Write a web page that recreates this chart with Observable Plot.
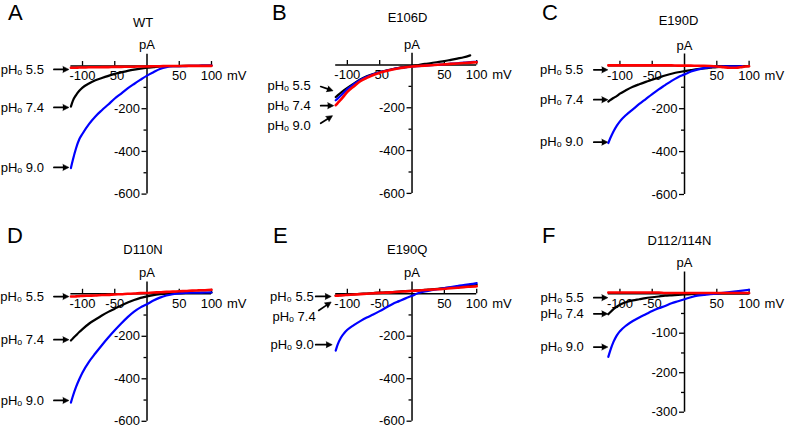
<!DOCTYPE html>
<html><head><meta charset="utf-8">
<script src="https://cdn.jsdelivr.net/npm/d3@7"></script>
<script src="https://cdn.jsdelivr.net/npm/@observablehq/plot@0.6"></script>
<style>
body{margin:0;background:#fff;}
#fig{position:relative;width:787px;height:428px;overflow:hidden;font-family:"Liberation Sans",Arial,sans-serif;background:#fff;}
.cell{position:absolute;}
.letter{position:absolute;font-size:22px;line-height:22px;color:#000;}
</style></head><body><div id="fig"></div>
<script>
// ---- data (mV, pA) ----
const voltage = [-118,-115,-110,-105,-100,-90,-80,-70,-60,-50,-40,-30,-20,-10,0,10,20,30,40,50,60,70,80,90,100];
// A: WT
const wt55 = [-8,-8,-8,-7,-7,-6,-6,-5,-5,-4,-4,-3,-3,-2,-2,-1,-1,0,0,0,1,1,1,1,1];
const wt74 = [-190,-163,-136,-116,-101,-82,-67,-56,-46,-37,-30,-23,-17,-12,-8,-5,-2,-1,0,0,1,1,1,2,2];
const wt90 = [-478,-440,-385,-343,-317,-272,-236,-207,-180,-152,-129,-105,-84,-64,-45,-29,-14,-5,-1,0,0,1,1,2,2];
// B: E106D
const e106d55 = [-188,-178,-162,-144,-126,-100,-76,-60,-47,-36,-28,-21,-15,-11,-7,-5,-3,-1,1,3,5,7,9,11,13];
const e106d74 = [-150,-142,-130,-118,-107,-87,-68,-53,-42,-33,-26,-19,-13,-9,-5,0,5,9,14,18,24,30,36,45,null];
const e106d90 = [-165,-157,-143,-128,-113,-90,-70,-55,-43,-34,-27,-20,-15,-11,-7,-5,-3,-1,1,3,6,8,11,13,15];
// C: E190D
const e190d55 = [2,2,2,2,2,2,2,2,2,2,2,2,2,1,1,1,0,0,-1,-3,-6,-9,-9,-5,-2];
const e190d74 = [-167,-160,-150,-141,-130,-113,-98,-86,-75,-65,-55,-45,-37,-30,-25,-20,-15,-12,-9,-6,-4,-3,-2,-2,-2];
const e190d90 = [-360,-338,-306,-280,-259,-228,-203,-178,-155,-132,-110,-90,-70,-53,-40,-27,-18,-11,-6,-4,-3,-2,-2,-1,null];
// D: D110N
const d110n55 = [-13,-13,-12,-11,-10,-9,-8,-6,-5,-3,-2,0,1,3,4,6,7,9,10,12,13,15,16,17,19];
const d110n74 = [-220,-210,-195,-180,-166,-141,-121,-102,-85,-70,-55,-41,-29,-19,-12,-6,-2,1,2,3,4,4,5,5,6];
const d110n90 = [-512,-482,-438,-402,-370,-320,-280,-242,-206,-172,-140,-110,-84,-64,-49,-32,-18,-8,-2,2,4,5,5,6,6];
// E: E190Q
const e190q55 = [-10,-9,-8,-7,-6,-4,-2,0,2,4,5,7,9,11,13,15,17,19,21,23,26,28,31,33,35];
const e190q74 = [-9,-8,-7,-6,-5,-3,-1,1,3,5,6,8,10,12,14,16,18,21,23,26,29,32,35,38,41];
const e190q90 = [-268,-240,-207,-186,-170,-148,-129,-112,-98,-82,-65,-48,-35,-22,-10,3,11,16,21,26,31,36,41,45,50];
// F: D112/114N
const d112n55 = [3,3,3,3,3,3,3,3,3,3,3,2,2,2,2,2,2,2,2,2,2,2,2,2,2];
const d112n74 = [-52,-47,-39,-33,-28,-21,-17,-14,-11,-9,-7,-5,-4,-3,-2,-1,0,0,0,0,1,1,1,1,1];
const d112n90 = [-160,-144,-122,-106,-95,-80,-69,-60,-52,-44,-37,-31,-24,-19,-14,-9,-5,-3,-1,0,2,4,6,8,10];

const panelLetters = ["A","B","C","D","E","F"];
const panelTitles = ["WT","E106D","E190D","D110N","E190Q","D112/114N"];
const seriesByPanel = [
  [wt55, wt74, wt90],
  [e106d55, e106d74, e106d90],
  [e190d55, e190d74, e190d90],
  [d110n55, d110n74, d110n90],
  [e190q55, e190q74, e190q90],
  [d112n55, d112n74, d112n90]
];
const xTicks = [-100, -50, 50, 100];
const xTickLabels = ["-100", "-50", "50", "100"];
const yMajorTicks = [[-200,-400,-600],[-200,-400,-600],[-200,-400,-600],[-200,-400,-600],[-200,-400,-600],[-100,-200,-300]];
const yMinorTicks = [[-100,-300,-500],[-100,-300,-500],[-100,-300,-500],[-100,-300,-500],[-100,-300,-500],[-50,-150,-250]];
const yMin = [-600,-600,-600,-600,-600,-300];
const yMax = 55;
const phLabels = [
  ["pHₒ 5.5","pHₒ 7.4","pHₒ 9.0"],
  ["pHₒ 5.5","pHₒ 7.4","pHₒ 9.0"],
  ["pHₒ 5.5","pHₒ 7.4","pHₒ 9.0"],
  ["pH₀ 5.5","pHₒ 7.4","pHₒ 9.0"],
  ["pH₀ 5.5","pHₒ 7.4","pHₒ 9.0"],
  ["pHₒ 5.5","pHₒ 7.4","pHₒ 9.0"]
];
// current (pA) each pH label points at
const labelCurrents = [[-16,-194,-475],[-96,-190,-282],[-19,-158,-356],[-13,-216,-502],[-13,-107,-240],[-10,-51,-135]];
const seriesColors = ["#ff0000", "#000000", "#0000ff"]; // pH 5.5, 7.4, 9.0

// ---- layout (page pixels) ----
const H = (lx, ax, ay, rot, len) => ({lx, ax, ay, rot, len});
const layout = [
  {left:0,   top:0,   w:262, h:210, xl:70.4,  xr:211,   yt:53.8,  yb:193.6, letter:[8,20],    title:[142.5,22.5], pA:44.5,
   arrows:[H(-27,-17,0,90,15),H(-27,-17,0,90,15),H(-27,-17,0,90,15)]},
  {left:262, top:0,   w:262, h:210, xl:335.2, xr:476.2, yt:52.7,  yb:192.9, letter:[272,20],  title:[407,17],    pA:44.5,
   arrows:[H(-25,-15,1,109,13),H(-25,-15,0,90,13),H(-25,-15,-2,57,14)]},
  {left:524, top:0,   w:263, h:210, xl:607.8, xr:748.6, yt:53.5,  yb:194,   letter:[542,20],  title:[678,20],    pA:45,
   arrows:[H(-25,-14.5,0,90,14),H(-25,-14.5,0,90,14),H(-25,-14.5,0,90,14)]},
  {left:0,   top:210, w:262, h:218, xl:70.4,  xr:211,   yt:281.6, yb:420.8, letter:[7,243],   title:[142.5,249], pA:272,
   arrows:[H(-27,-17,0,90,15),H(-27,-17,0,90,15),H(-27,-17,0,90,15)]},
  {left:262, top:210, w:262, h:218, xl:335.2, xr:476.2, yt:281.5, yb:420.7, letter:[273,243], title:[406.7,249], pA:272,
   arrows:[H(-22,-20,0,90,15.5),H(-20,-17,-6,56,15),H(-22,-20,0,90,16.5)]},
  {left:524, top:210, w:263, h:218, xl:607.8, xr:748.6, yt:271.5, yb:411.7, letter:[542,243], title:[679,240],   pA:262,
   arrows:[H(-24.5,-14.5,0,90,14),H(-24.5,-14.5,0,90,14),H(-24.5,-14.5,0,90,14)]}
];

const FONT = "Liberation Sans, Arial, sans-serif";
const HEAD = 6;
const fig = document.getElementById("fig");

layout.forEach((L, p) => {
  const x0 = voltage[0], x1 = voltage[voltage.length - 1];
  const xZeroPx = L.xl + (0 - x0) * (L.xr - L.xl) / (x1 - x0);
  const txt = {fontFamily: FONT, fontSize: 13, fill: "black"};
  const marks = [];
  // axes lines
  marks.push(Plot.ruleY([0], {x1: x0, x2: x1, stroke: "black", strokeWidth: 1.5}));
  marks.push(Plot.ruleX([0], {y1: yMin[p], y2: yMax, stroke: "black", strokeWidth: 1.5}));
  // x ticks (pointing up)
  marks.push(Plot.ruleX(xTicks, {x: d => d, y1: 0, y2: 0, insetTop: -4.5, stroke: "black", strokeWidth: 1.3}));
  // y ticks (pointing left)
  marks.push(Plot.ruleY(yMajorTicks[p], {y: d => d, x1: 0, x2: 0, insetLeft: -5, stroke: "black", strokeWidth: 1.3}));
  marks.push(Plot.ruleY(yMinorTicks[p], {y: d => d, x1: 0, x2: 0, insetLeft: -3, stroke: "black", strokeWidth: 1.3}));
  // tick labels
  marks.push(Plot.text(xTicks, {x: d => d, y: 0, text: (d, i) => xTickLabels[i], dy: 10, ...txt}));
  marks.push(Plot.text(["mV"], {x: x1, y: 0, text: d => d, dy: 10, dx: 15.5, textAnchor: "start", ...txt}));
  marks.push(Plot.text(yMajorTicks[p], {x: 0, y: d => d, text: d => String(d), dx: -7, textAnchor: "end", ...txt}));
  // pA unit + title
  marks.push(Plot.text(["pA"], {x: 0, y: yMax, text: d => d, dy: L.pA - L.yt, ...txt}));
  marks.push(Plot.text([panelTitles[p]], {x: 0, y: yMax, text: d => d, dx: L.title[0] - xZeroPx, dy: L.title[1] - L.yt, ...txt}));
  // pH labels and arrows (shaft + filled head)
  phLabels[p].forEach((lab, k) => {
    const a = L.arrows[k];
    const t = a.rot * Math.PI / 180;
    const ux = Math.sin(t), uy = -Math.cos(t);
    const yv = labelCurrents[p][k];
    marks.push(Plot.text([lab], {x: x0, y: yv, text: d => d, textAnchor: "end", dx: a.lx, ...txt}));
    marks.push(Plot.vector([lab], {x: x0, y: yv, rotate: a.rot, length: a.len - HEAD + 1, anchor: "start",
      dx: a.ax, dy: a.ay, stroke: "black", strokeWidth: 1.7, r: 0}));
    marks.push(Plot.vector([lab], {x: x0, y: yv, rotate: a.rot, length: HEAD, anchor: "end", shape: "spike", r: 3,
      dx: a.ax + a.len * ux, dy: a.ay + a.len * uy, fill: "black", stroke: "black", strokeWidth: 0.6}));
  });
  // current traces: pH 7.4 (black), 9.0 (blue), 5.5 (red) on top
  [1, 2, 0].forEach(s => {
    const arr = seriesByPanel[p][s];
    const data = voltage.map((v, k) => ({v, i: arr[k]}));
    marks.push(Plot.line(data, {x: "v", y: "i", stroke: seriesColors[s], strokeWidth: s === 0 ? 2.6 : 2.2, curve: "monotone-x"}));
  });

  const chart = Plot.plot({
    width: L.w, height: L.h,
    marginLeft: L.xl - L.left, marginRight: L.left + L.w - L.xr,
    marginTop: L.yt - L.top, marginBottom: L.top + L.h - L.yb,
    x: {domain: [x0, x1], axis: null},
    y: {domain: [yMin[p], yMax], axis: null},
    style: {background: "transparent", overflow: "visible", fontFamily: FONT},
    marks
  });
  const cell = document.createElement("div");
  cell.className = "cell";
  cell.style.left = L.left + "px";
  cell.style.top = L.top + "px";
  cell.style.width = L.w + "px";
  cell.style.height = L.h + "px";
  cell.appendChild(chart);
  fig.appendChild(cell);

  const letter = document.createElement("div");
  letter.className = "letter";
  letter.textContent = panelLetters[p];
  letter.style.left = L.letter[0] + "px";
  letter.style.top = (L.letter[1] - 18) + "px";
  fig.appendChild(letter);
});
</script>
</body></html>
